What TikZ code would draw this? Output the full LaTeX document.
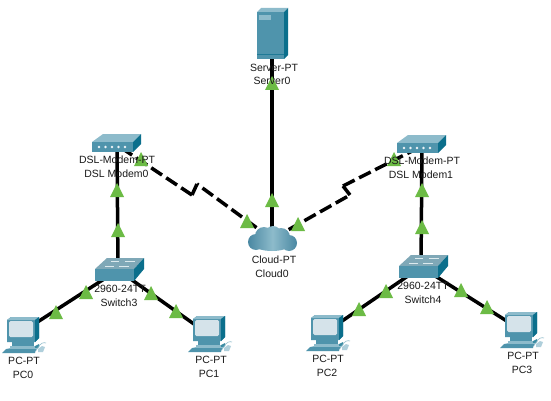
\documentclass[tikz,border=0pt]{standalone}
\usepackage{fontspec}
\setmainfont{Liberation Sans}
\definecolor{fr}{HTML}{4F94AC}
\definecolor{tp}{HTML}{8DBBCB}
\definecolor{sd}{HTML}{0B6F8C}
\definecolor{scr}{HTML}{D5E3EA}
\definecolor{grn}{HTML}{6CBB45}
\definecolor{txt}{HTML}{1A1A1A}
\definecolor{cl}{HTML}{4A88A2}
\tikzset{
  x=1pt,y=-1pt,
  dev/.style={inner sep=0pt,minimum size=2pt,outer sep=0pt},
  lbl/.style={font=\fontsize{10.5}{12}\selectfont,text=txt,inner sep=0pt,anchor=center},
  wire/.style={line width=3.5pt,black},
  dsl/.style={line width=3.5pt,black,dash pattern=on 13pt off 5pt},
  zig/.style={line width=3.5pt,black},
  tri/.pic={\fill[grn] (0,-7) -- (7,7) -- (-7,7) -- cycle;},
  pcicon/.pic={
    \fill[fr] (0,3) -- (4,0) -- (32,0) -- (32,21) -- (28,25) -- (0,25) -- cycle;
    \fill[tp] (0,3) -- (4,0) -- (32,0) -- (28,3) -- cycle;
    \fill[sd] (28,3) -- (32,0) -- (32,21) -- (28,25) -- cycle;
    \fill[scr,rounded corners=1.5pt] (2,4) rectangle (26,20);
    \fill[fr] (5,25) rectangle (27,29);
    \fill[tp] (3,29) -- (30,29) -- (30,31) -- (3,31) -- cycle;
    \fill[sd!80] (28,29) -- (32,27) -- (32,30) -- (28,32) -- cycle;
    \fill[tp] (-1,32) -- (3,31) -- (31,31) -- (29,34) -- cycle;
    \fill[fr] (-5,36) -- (-1,32) -- (29,32) -- (28,36) -- cycle;
    \draw[fr!60,line width=0.6pt] (31,31) .. controls (33,26) and (37,25) .. (39,26);
    \fill[tp!70] (31,32) -- (35,29) -- (38,30) -- (36,35) -- (31,35) -- cycle;
  },
  swicon/.pic={
    \fill[tp!90!black] (0,11) -- (12,0) -- (49,0) -- (39,11) -- cycle;
    \fill[fr] (0,11) rectangle (39,23);
    \fill[sd] (39,11) -- (49,0) -- (49,11) -- (39,23) -- cycle;
    \draw[white!80!fr,line width=0.7pt] (16,3) -- (24,3) (30,3) -- (40,3) (10,8) -- (19,8) (24,8) -- (34,8);
  },
  modemicon/.pic={
    \fill[tp] (0,8) -- (11,0) -- (49,0) -- (41,8) -- cycle;
    \fill[fr] (0,8) rectangle (41,18);
    \fill[sd] (41,8) -- (49,0) -- (49,10) -- (41,18) -- cycle;
    \foreach \i in {7,13.5,20,26.5,33} {\fill[white!90!fr] (\i,13) circle (1.3);}
  },
  servericon/.pic={
    \fill[tp] (0,4) -- (4,0) -- (31,0) -- (27,4) -- cycle;
    \fill[fr] (0,4) rectangle (27,51);
    \fill[sd] (27,4) -- (31,0) -- (31,47) -- (27,51) -- cycle;
    \fill[tp] (2,7) rectangle (14,12);
    \draw[sd!70!fr,line width=0.5pt] (0,46) -- (27,46);
  },
}
\begin{document}
\begin{tikzpicture}
\useasboundingbox (0,0) rectangle (551,401);
\fill[white] (0,0) rectangle (551,401);
% device anchors
\node[dev] (server) at (272,35) {};
\node[dev] (cloud) at (272,239) {};
\node[dev] (modem0) at (117,145) {};
\node[dev] (modem1) at (422,146) {};
\node[dev] (sw3) at (118,270) {};
\node[dev] (sw4) at (421,267) {};
\node[dev] (pc0) at (22,332) {};
\node[dev] (pc1) at (208,334) {};
\node[dev] (pc2) at (326,332) {};
\node[dev] (pc3) at (521,330) {};
\coordinate (z0a) at (192,195);
\coordinate (z0b) at (197,184);
\coordinate (z1a) at (350,195);
\coordinate (z1b) at (343,186);
% connectors
\draw[wire] (server) -- (cloud);
\draw[wire] (modem0) -- (sw3);
\draw[wire] (modem1) -- (sw4);
\draw[wire] (sw3) -- (pc0);
\draw[wire] (sw3) -- (pc1);
\draw[wire] (sw4) -- (pc2);
\draw[wire] (sw4) -- (pc3);
\draw[dsl] (z0a) -- (modem0);
\draw[zig] (z0a) -- (z0b);
\draw[dsl] (cloud) -- (z0b);
\draw[dsl] (z1b) -- (modem1);
\draw[zig] (z1b) -- (z1a);
\draw[dsl] (cloud) -- (z1a);
% link lights
\foreach \p in {(272,83),(272,200),(117,190),(118,230),(141,159),(247,221),
  (298,224),(394,159),(422,190),(422,227),(86,292),(56,312),(151,293),(176,311),
  (386,291),(359,309),(461,290),(487,307)}
  \pic at \p {tri};
% devices
\pic at (257,8) {servericon};
\pic at (92,134) {modemicon};
\pic at (397,135) {modemicon};
\pic at (95,258) {swicon};
\pic at (399,255) {swicon};
\pic at (7,317) {pcicon};
\pic at (193,316) {pcicon};
\pic at (311,315) {pcicon};
\pic at (505,312) {pcicon};
\shade[left color=cl,right color=cl,middle color=tp]
  (256,242) circle (8) (264,236) circle (9) (273,234) circle (8) (281,237) circle (9)
  (289,243) circle (8) (272,243) ellipse (20 and 8);
% labels
\node[lbl] (l1) at (274,68) {Server-PT};
\node[lbl] (l2) at (272,81) {Server0};
\node[lbl] (l3) at (117,160) {DSL-Modem-PT};
\node[lbl] (l4) at (116.5,174) {DSL Modem0};
\node[lbl] (l5) at (422,161) {DSL-Modem-PT};
\node[lbl] (l6) at (421,175) {DSL Modem1};
\node[lbl] (l7) at (274,260) {Cloud-PT};
\node[lbl] (l8) at (272,274) {Cloud0};
\node[lbl] (l9) at (120,289) {2960-24TT};
\node[lbl] (l10) at (119,303) {Switch3};
\node[lbl] (l11) at (423,286) {2960-24TT};
\node[lbl] (l12) at (423,300) {Switch4};
\node[lbl] (l13) at (24,361) {PC-PT};
\node[lbl] (l14) at (23,375) {PC0};
\node[lbl] (l15) at (211,360) {PC-PT};
\node[lbl] (l16) at (209,374) {PC1};
\node[lbl] (l17) at (328,359) {PC-PT};
\node[lbl] (l18) at (327,373) {PC2};
\node[lbl] (l19) at (523,356) {PC-PT};
\node[lbl] (l20) at (522,370) {PC3};
\end{tikzpicture}
\end{document}
